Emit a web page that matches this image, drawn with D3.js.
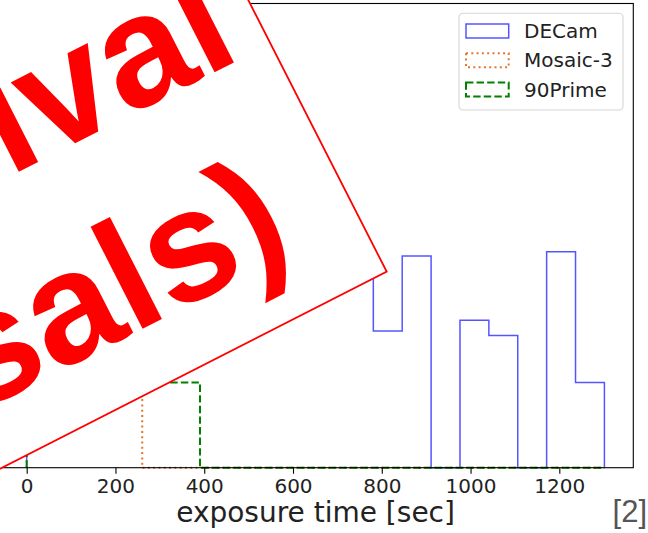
<!DOCTYPE html>
<html>
<head>
<meta charset="utf-8">
<script src="https://cdn.jsdelivr.net/npm/d3@7"></script>
<style>
    body { margin: 0; background: #fff; }
    svg { display: block; }
</style>
</head>
<body>
<div id="chart"></div>
<script>
// histogram data, 20 shared bins from 0 to 1301.6 sec
let binCount = 20;
let binMax = 1301.6;
let seriesNames = ["DECam", "Mosaic-3", "90Prime"];
let decamCounts = [2.1, 5.2, 9.5, 6.3, 3.4, 4.1, 3.8, 5.0, 6.6, 5.4, 4.8, 4.4, 2.94, 4.55, 0, 3.17, 2.84, 0, 4.64, 1.83];
let mosaicCounts = [2.4, 6.5, 4.2, 3.3, 0, 0, 0, 0, 0, 0, 0, 0, 0, 0, 0, 0, 0, 0, 0, 0];
let primeCounts = [3.0, 7.8, 5.6, 3.9, 2.6, 1.83, 0, 0, 0, 0, 0, 0, 0, 0, 0, 0, 0, 0, 0, 0];
let xTicks = [0, 200, 400, 600, 800, 1000, 1200];
let xAxisTitle = "exposure time [sec]";
let stampLines = ["Archival", "(proposals)"];

let styles = [
    {color: "#5555ff", width: 1.5, dash: null},
    {color: "#e2772c", width: 2, dash: "2,3.3"},
    {color: "#008000", width: 2, dash: "7.4,3.2"}
];

let W = 648, H = 533;
let plot = {left: -2.2, right: 633.3, top: 3.5, bottom: 467.7};

let svg = d3.select("#chart").append("svg")
    .attr("width", W)
    .attr("height", H);

let binWidth = binMax / binCount;
let edges = d3.range(binCount + 1).map(i => i * binWidth);
let allCounts = [decamCounts, mosaicCounts, primeCounts];
let yMax = d3.max(allCounts.flat()) * 1.05;

let xScale = d3.scaleLinear()
    .domain([-binMax * 0.05, binMax * 1.05])
    .range([plot.left, plot.right]);
let yScale = d3.scaleLinear()
    .domain([0, yMax])
    .range([plot.bottom, plot.top]);

// step outline like matplotlib histtype='step'
function stepPoints(counts) {
    let pts = [[edges[0], 0]];
    counts.forEach(function(c, i) {
        pts.push([edges[i], c]);
        pts.push([edges[i + 1], c]);
    });
    pts.push([edges[edges.length - 1], 0]);
    return pts;
}

let line = d3.line()
    .x(d => xScale(d[0]))
    .y(d => yScale(d[1]));

let g = svg.append("g");

allCounts.forEach(function(counts, i) {
    g.append("path")
        .attr("d", line(stepPoints(counts)))
        .attr("fill", "none")
        .attr("stroke", styles[i].color)
        .attr("stroke-width", styles[i].width)
        .attr("stroke-dasharray", styles[i].dash)
        .attr("stroke-linejoin", "miter");
});

// frame
g.append("rect")
    .attr("x", plot.left)
    .attr("y", plot.top)
    .attr("width", plot.right - plot.left)
    .attr("height", plot.bottom - plot.top)
    .attr("fill", "none")
    .attr("stroke", "#000")
    .attr("stroke-width", 1.1);

// x axis
let xAxis = g.append("g")
    .attr("transform", "translate(0," + plot.bottom + ")")
    .call(d3.axisBottom(xScale)
        .tickValues(xTicks)
        .tickFormat(d3.format("d"))
        .tickSize(6)
        .tickPadding(5)
        .tickSizeOuter(0));
xAxis.select(".domain").remove();
xAxis.selectAll("line").attr("stroke", "#000").attr("stroke-width", 1.1);
xAxis.selectAll("text")
    .attr("font-family", "DejaVu Sans")
    .attr("font-size", 20)
    .attr("fill", "#222");

svg.append("text")
    .attr("x", (plot.left + plot.right) / 2)
    .attr("y", 522)
    .attr("text-anchor", "middle")
    .attr("font-family", "DejaVu Sans")
    .attr("font-size", 28)
    .attr("fill", "#222")
    .text(xAxisTitle);

// legend
let legend = svg.append("g").attr("transform", "translate(459,13.3)");
legend.append("rect")
    .attr("width", 164)
    .attr("height", 96.7)
    .attr("rx", 4)
    .attr("fill", "#fff")
    .attr("fill-opacity", 0.8)
    .attr("stroke", "#d6d6d6")
    .attr("stroke-width", 1.1);
seriesNames.forEach(function(name, i) {
    let cy = 17.7 + i * 29.2;
    legend.append("rect")
        .attr("x", 7)
        .attr("y", cy - 7)
        .attr("width", 42.7)
        .attr("height", 14)
        .attr("fill", "none")
        .attr("stroke", styles[i].color)
        .attr("stroke-width", styles[i].width)
        .attr("stroke-dasharray", styles[i].dash);
    legend.append("text")
        .attr("x", 65)
        .attr("y", cy)
        .attr("dy", "0.36em")
        .attr("font-family", "DejaVu Sans")
        .attr("font-size", 20)
        .attr("fill", "#222")
        .text(name);
});

// rotated stamp over the left part
let stamp = svg.append("g")
    .attr("transform", "translate(386.7,271.7) rotate(-27)");
stamp.append("rect")
    .attr("x", -1100)
    .attr("y", -900)
    .attr("width", 1100)
    .attr("height", 900)
    .attr("fill", "#fff")
    .attr("stroke", "#ff0000")
    .attr("stroke-width", 1.8);
stamp.append("text")
    .attr("x", -30)
    .attr("y", -256)
    .attr("text-anchor", "end")
    .attr("font-family", "Liberation Sans, Arial, sans-serif")
    .attr("font-weight", "bold")
    .attr("font-size", 158)
    .attr("fill", "#ff0000")
    .text(stampLines[0]);
stamp.append("text")
    .attr("x", -70)
    .attr("y", -60)
    .attr("text-anchor", "end")
    .attr("font-family", "Liberation Sans, Arial, sans-serif")
    .attr("font-weight", "bold")
    .attr("font-size", 158)
    .attr("fill", "#ff0000")
    .text(stampLines[1]);

// reference marker
svg.append("text")
    .attr("x", 647)
    .attr("y", 522)
    .attr("text-anchor", "end")
    .attr("font-family", "Liberation Sans, Arial, sans-serif")
    .attr("font-size", 31)
    .attr("fill", "#555")
    .text("[2]");
</script>
</body>
</html>
